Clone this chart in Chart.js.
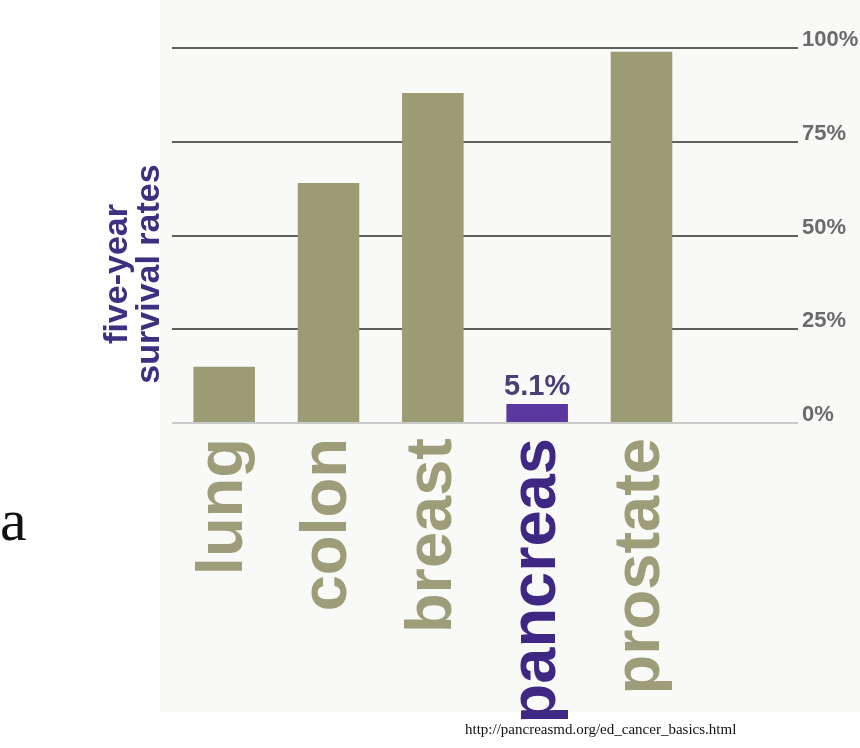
<!DOCTYPE html>
<html>
<head>
<meta charset="utf-8">
<title>five-year survival rates</title>
<script src="https://cdn.jsdelivr.net/npm/chart.js@4.4.1/dist/chart.umd.min.js"></script>
<style>
  html, body { margin: 0; padding: 0; background: #fff; }
  #wrap { position: relative; width: 860px; height: 748px; overflow: hidden; }
  #bg { position: absolute; left: 160px; top: 0; width: 700px; height: 712px; background: #f9f9f7; }
  #chart { position: absolute; left: 0; top: 0; }
  #letter { position: absolute; left: 0; top: 486px; font: 60px "Liberation Serif", serif; color: #111; }
  #source { position: absolute; left: 465px; top: 721px; font: 15px "Liberation Serif", serif; color: #111; white-space: nowrap; }
</style>
</head>
<body>
<div id="wrap">
  <div id="bg"></div>
  <canvas id="chart" width="860" height="748"></canvas>
  <div id="letter">a</div>
  <div id="source">http://pancreasmd.org/ed_cancer_basics.html</div>
</div>
<script>
// Data
const categorias = ['lung', 'colon', 'breast', 'pancreas', 'prostate', ''];
const taxas = [15, 64, 88, 5.1, 99, null];
const yTicks = [0, 25, 50, 75, 100];
const destaque = 'pancreas';
const tituloEixo = ['five-year', 'survival rates'];

// Colours
const corBarra = '#9b9b74';
const corDestaque = '#5b37a0';
const corTitulo = '#3f2f80';
const corRotulo = '#9d9d7a';
const corRotuloDestaque = '#3f2784';
const fonte = '"Liberation Sans", Arial, sans-serif';

// Value label above the highlighted bar
const rotuloValor = {
    id: 'rotuloValor',
    afterDatasetsDraw: function(chart) {
        const { ctx } = chart;
        const i = categorias.indexOf(destaque);
        const bar = chart.getDatasetMeta(0).data[i];
        if (!bar) return;
        ctx.save();
        ctx.font = 'bold 29px ' + fonte;
        ctx.fillStyle = '#4b3f73';
        ctx.textAlign = 'center';
        ctx.textBaseline = 'alphabetic';
        ctx.fillText(taxas[i] + '%', bar.x, bar.y - 9);
        ctx.restore();
    }
};

// Vertical title on the left (sits a bit lower than the plot centre)
const tituloLateral = {
    id: 'tituloLateral',
    afterDraw: function(chart) {
        const { ctx, chartArea } = chart;
        const alturaLinha = 32;
        ctx.save();
        ctx.translate(chartArea.left - 54, chartArea.bottom - 149);
        ctx.rotate(-Math.PI / 2);
        ctx.font = 'bold 34px ' + fonte;
        ctx.fillStyle = corTitulo;
        ctx.textAlign = 'center';
        ctx.textBaseline = 'middle';
        tituloEixo.forEach((linha, i) => {
            ctx.fillText(linha, 0, i * alturaLinha);
        });
        ctx.restore();
    }
};

const ctx = document.getElementById('chart').getContext('2d');

new Chart(ctx, {
    type: 'bar',
    data: {
        labels: categorias,
        datasets: [{
            data: taxas,
            backgroundColor: categorias.map(c => c === destaque ? corDestaque : corBarra),
            borderWidth: 0,
            barPercentage: 0.59,
            categoryPercentage: 1.0
        }]
    },
    options: {
        responsive: false,
        animation: false,
        layout: { padding: { left: 172, top: 48, right: 0, bottom: 0 } },
        plugins: {
            legend: { display: false },
            tooltip: { enabled: false }
        },
        scales: {
            x: {
                grid: { display: false, drawTicks: false },
                border: { display: false },
                ticks: {
                    autoSkip: false,
                    minRotation: 90,
                    maxRotation: 90,
                    padding: 15,
                    color: function(c) {
                        return categorias[c.index] === destaque ? corRotuloDestaque : corRotulo;
                    },
                    font: { family: fonte, size: 65, weight: 'bold' }
                },
                // keep the plot bottom at the 0% line, leave room for the tall labels
                afterFit: function(scale) { scale.height = 325; }
            },
            y: {
                position: 'right',
                min: 0,
                max: 100,
                z: 1,
                afterBuildTicks: function(axis) {
                    axis.ticks = yTicks.map(v => ({ value: v }));
                },
                grid: {
                    drawTicks: false,
                    lineWidth: 2,
                    color: function(c) {
                        return c.tick && c.tick.value === 0 ? '#c9c9c9' : 'rgba(0, 0, 0, 0.62)';
                    }
                },
                border: { display: false },
                ticks: {
                    padding: 4,
                    labelOffset: -8,
                    color: '#6b6b6b',
                    font: { family: fonte, size: 22, weight: 'bold' },
                    callback: function(v) { return v + '%'; }
                },
                afterFit: function(scale) { scale.width = 62; }
            }
        }
    },
    plugins: [rotuloValor, tituloLateral]
});
</script>
</body>
</html>
